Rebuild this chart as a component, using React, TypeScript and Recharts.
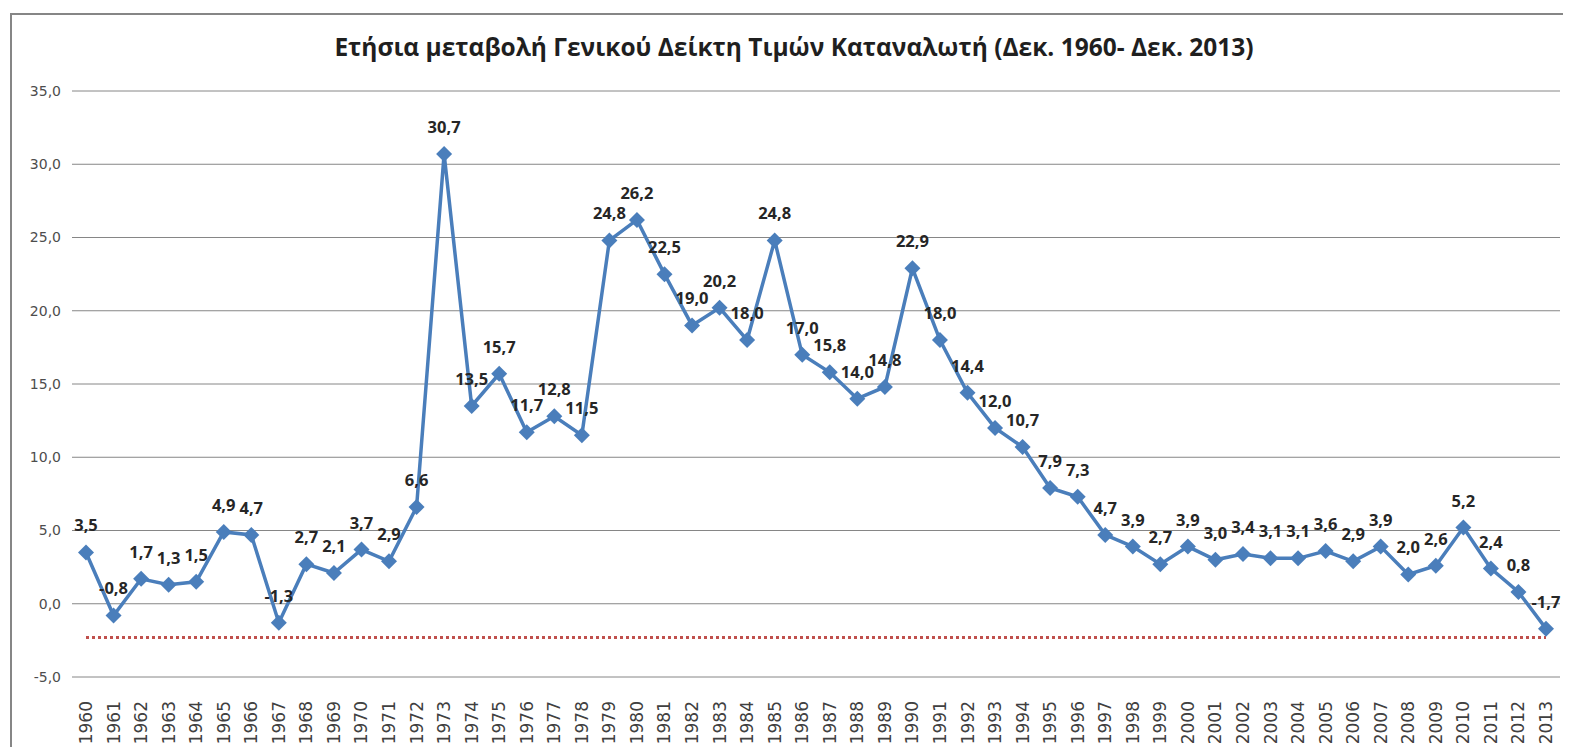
import { LineChart, Line, XAxis, YAxis, CartesianGrid, LabelList } from 'recharts';

const years = [
  '1960', '1961', '1962', '1963', '1964', '1965', '1966', '1967', '1968', '1969',
  '1970', '1971', '1972', '1973', '1974', '1975', '1976', '1977', '1978', '1979',
  '1980', '1981', '1982', '1983', '1984', '1985', '1986', '1987', '1988', '1989',
  '1990', '1991', '1992', '1993', '1994', '1995', '1996', '1997', '1998', '1999',
  '2000', '2001', '2002', '2003', '2004', '2005', '2006', '2007', '2008', '2009',
  '2010', '2011', '2012', '2013',
];

const cpiChange = [
  3.5, -0.8, 1.7, 1.3, 1.5, 4.9, 4.7, -1.3, 2.7, 2.1,
  3.7, 2.9, 6.6, 30.7, 13.5, 15.7, 11.7, 12.8, 11.5, 24.8,
  26.2, 22.5, 19.0, 20.2, 18.0, 24.8, 17.0, 15.8, 14.0, 14.8,
  22.9, 18.0, 14.4, 12.0, 10.7, 7.9, 7.3, 4.7, 3.9, 2.7,
  3.9, 3.0, 3.4, 3.1, 3.1, 3.6, 2.9, 3.9, 2.0, 2.6,
  5.2, 2.4, 0.8, -1.7,
];

const refLevel = -2.3;

const yTicks = [-5, 0, 5, 10, 15, 20, 25, 30, 35];

const title = 'Ετήσια μεταβολή Γενικού Δείκτη Τιμών Καταναλωτή (Δεκ. 1960- Δεκ. 2013)';

const data = years.map((year, i) => ({ year, value: cpiChange[i], ref: refLevel }));

const boldFont = 'Open Sans, sans-serif';
const axisFont = 'DejaVu Sans, sans-serif';
const fmt = (v: number) => v.toFixed(1).replace('.', ',');

function Diamond(props: any) {
  const { cx, cy } = props;
  if (cx == null || cy == null) return null;
  const r = 8;
  return (
    <path
      d={`M${cx},${cy - r} L${cx + r},${cy} L${cx},${cy + r} L${cx - r},${cy} Z`}
      fill="#4A7EBB"
    />
  );
}

function YearTick(props: any) {
  const { x, y, payload } = props;
  return (
    <text
      transform={`translate(${x + 6},${y + 16}) rotate(-90)`}
      textAnchor="end"
      fontSize={17}
      fill="#404040"
      fontFamily={axisFont}
    >
      {payload.value}
    </text>
  );
}

function ValueLabel(props: any) {
  const { x, y, value } = props;
  return (
    <text x={x} y={y - 21} textAnchor="middle" fontSize={16.5} fontWeight="bold" fill="#262626" fontFamily={boldFont}>
      {fmt(value)}
    </text>
  );
}

export default function App() {
  return (
    <div style={{ position: 'relative', width: 1563, height: 739, background: '#fff' }}>
      <div
        style={{
          position: 'absolute',
          left: 2,
          top: 5,
          width: 1580,
          height: 760,
          border: '2px solid #868686',
          boxSizing: 'border-box',
        }}
      />
      <div
        style={{
          position: 'absolute',
          left: 0,
          width: 1572,
          top: 22,
          textAlign: 'center',
          fontFamily: boldFont,
          fontWeight: 'bold',
          fontSize: 24.5,
          color: '#1F1F1F',
        }}
      >
        {title}
      </div>
      <div style={{ position: 'absolute', left: 0, top: 0 }}>
        <LineChart width={1563} height={739} data={data} margin={{ top: 83, right: 11, bottom: 0, left: 0 }}>
          <CartesianGrid vertical={false} stroke="#868686" strokeWidth={1} />
          <XAxis
            dataKey="year"
            height={70}
            axisLine={false}
            tickLine={false}
            interval={0}
            padding={{ left: 14, right: 14 }}
            tick={<YearTick />}
          />
          <YAxis
            width={64}
            domain={[-5, 35]}
            ticks={yTicks}
            axisLine={false}
            tickLine={false}
            tickSize={0}
            tickMargin={11}
            tickFormatter={fmt}
            tick={{ fontSize: 14, fill: '#4D4D4D', fontFamily: axisFont }}
          />
          <Line
            dataKey="ref"
            stroke="#C0504D"
            strokeWidth={3}
            strokeDasharray="3 3"
            dot={false}
            isAnimationActive={false}
          />
          <Line
            dataKey="value"
            stroke="#4A7EBB"
            strokeWidth={3.5}
            dot={<Diamond />}
            activeDot={false}
            isAnimationActive={false}
          >
            <LabelList dataKey="value" content={<ValueLabel />} />
          </Line>
        </LineChart>
      </div>
    </div>
  );
}
